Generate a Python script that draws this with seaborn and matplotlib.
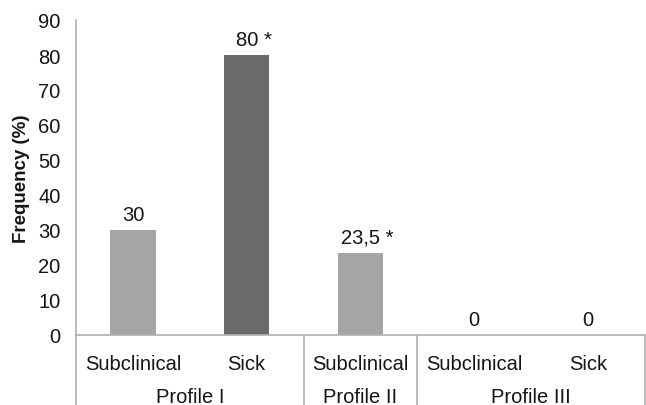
import matplotlib
matplotlib.use("Agg")
import matplotlib.pyplot as plt
import matplotlib.transforms as mtransforms
import seaborn as sns
import pandas as pd

# Data
profiles = ["Profile I", "Profile II", "Profile III"]
profile_sizes = [2, 1, 2]
conditions = ["Subclinical", "Sick", "Subclinical", "Subclinical", "Sick"]
frequency = [30, 80, 23.5, 0, 0]
value_labels = ["30", "80 *", "23,5 *", "0", "0"]

LIGHT = "#a5a5a5"
DARK = "#6a6a6a"
AXIS = "#b0b0b0"
TEXT = "#151515"
FS = 14.5

sns.set_theme(style="white")
plt.rcParams["font.family"] = ["Liberation Sans", "DejaVu Sans"]

slots = [f"{p}|{i}" for i, p in enumerate(conditions)]
df = pd.DataFrame({"slot": slots, "condition": conditions, "frequency": frequency})
colors = {s: (DARK if c == "Sick" else LIGHT) for s, c in zip(slots, conditions)}

fig = plt.figure(figsize=(6.46, 4.06), dpi=100)
ax = fig.add_axes([76 / 646, 70 / 406, 569 / 646, 315 / 406])

sns.barplot(data=df, x="slot", y="frequency", hue="slot", palette=colors,
            width=0.4, legend=False, ax=ax, saturation=1, edgecolor="none")

ax.set_xlim(-0.5, len(slots) - 0.5)
ax.set_ylim(0, 90)
ax.set_yticks(range(0, 91, 10))
ax.tick_params(axis="y", length=0, pad=11, labelsize=FS, colors=TEXT)
ax.tick_params(axis="x", length=0, pad=14, labelsize=FS, colors=TEXT)
ax.set_xticks(range(len(slots)))
ax.set_xticklabels(conditions)
ax.set_xlabel("")
ax.set_ylabel("Frequency (%)", fontsize=13.5, fontweight="bold", labelpad=6,
              color=TEXT)

for side in ["top", "right"]:
    ax.spines[side].set_visible(False)
for side in ["left", "bottom"]:
    ax.spines[side].set_color(AXIS)
    ax.spines[side].set_linewidth(1.2)

# value labels above bars
for i, (v, lab) in enumerate(zip(frequency, value_labels)):
    dx = 5 if "*" in lab else 0
    ax.annotate(lab, xy=(i, v), xytext=(dx, 7.5), textcoords="offset points",
                ha="center", va="baseline", fontsize=FS, color=TEXT)

# group separators and profile labels beneath the axis
trans = mtransforms.blended_transform_factory(ax.transData, ax.transAxes)
bottom_frac = -70 / 315
edges = [-0.5]
for n in profile_sizes:
    edges.append(edges[-1] + n)
for e in edges:
    ax.plot([e, e], [0, bottom_frac], transform=trans, color=AXIS,
            lw=1.2, clip_on=False)
for p, a, b in zip(profiles, edges[:-1], edges[1:]):
    ax.text((a + b) / 2, -62 / 315, p, transform=trans, ha="center",
            va="center", fontsize=FS, color=TEXT)

fig.savefig("out.png", dpi=100)
